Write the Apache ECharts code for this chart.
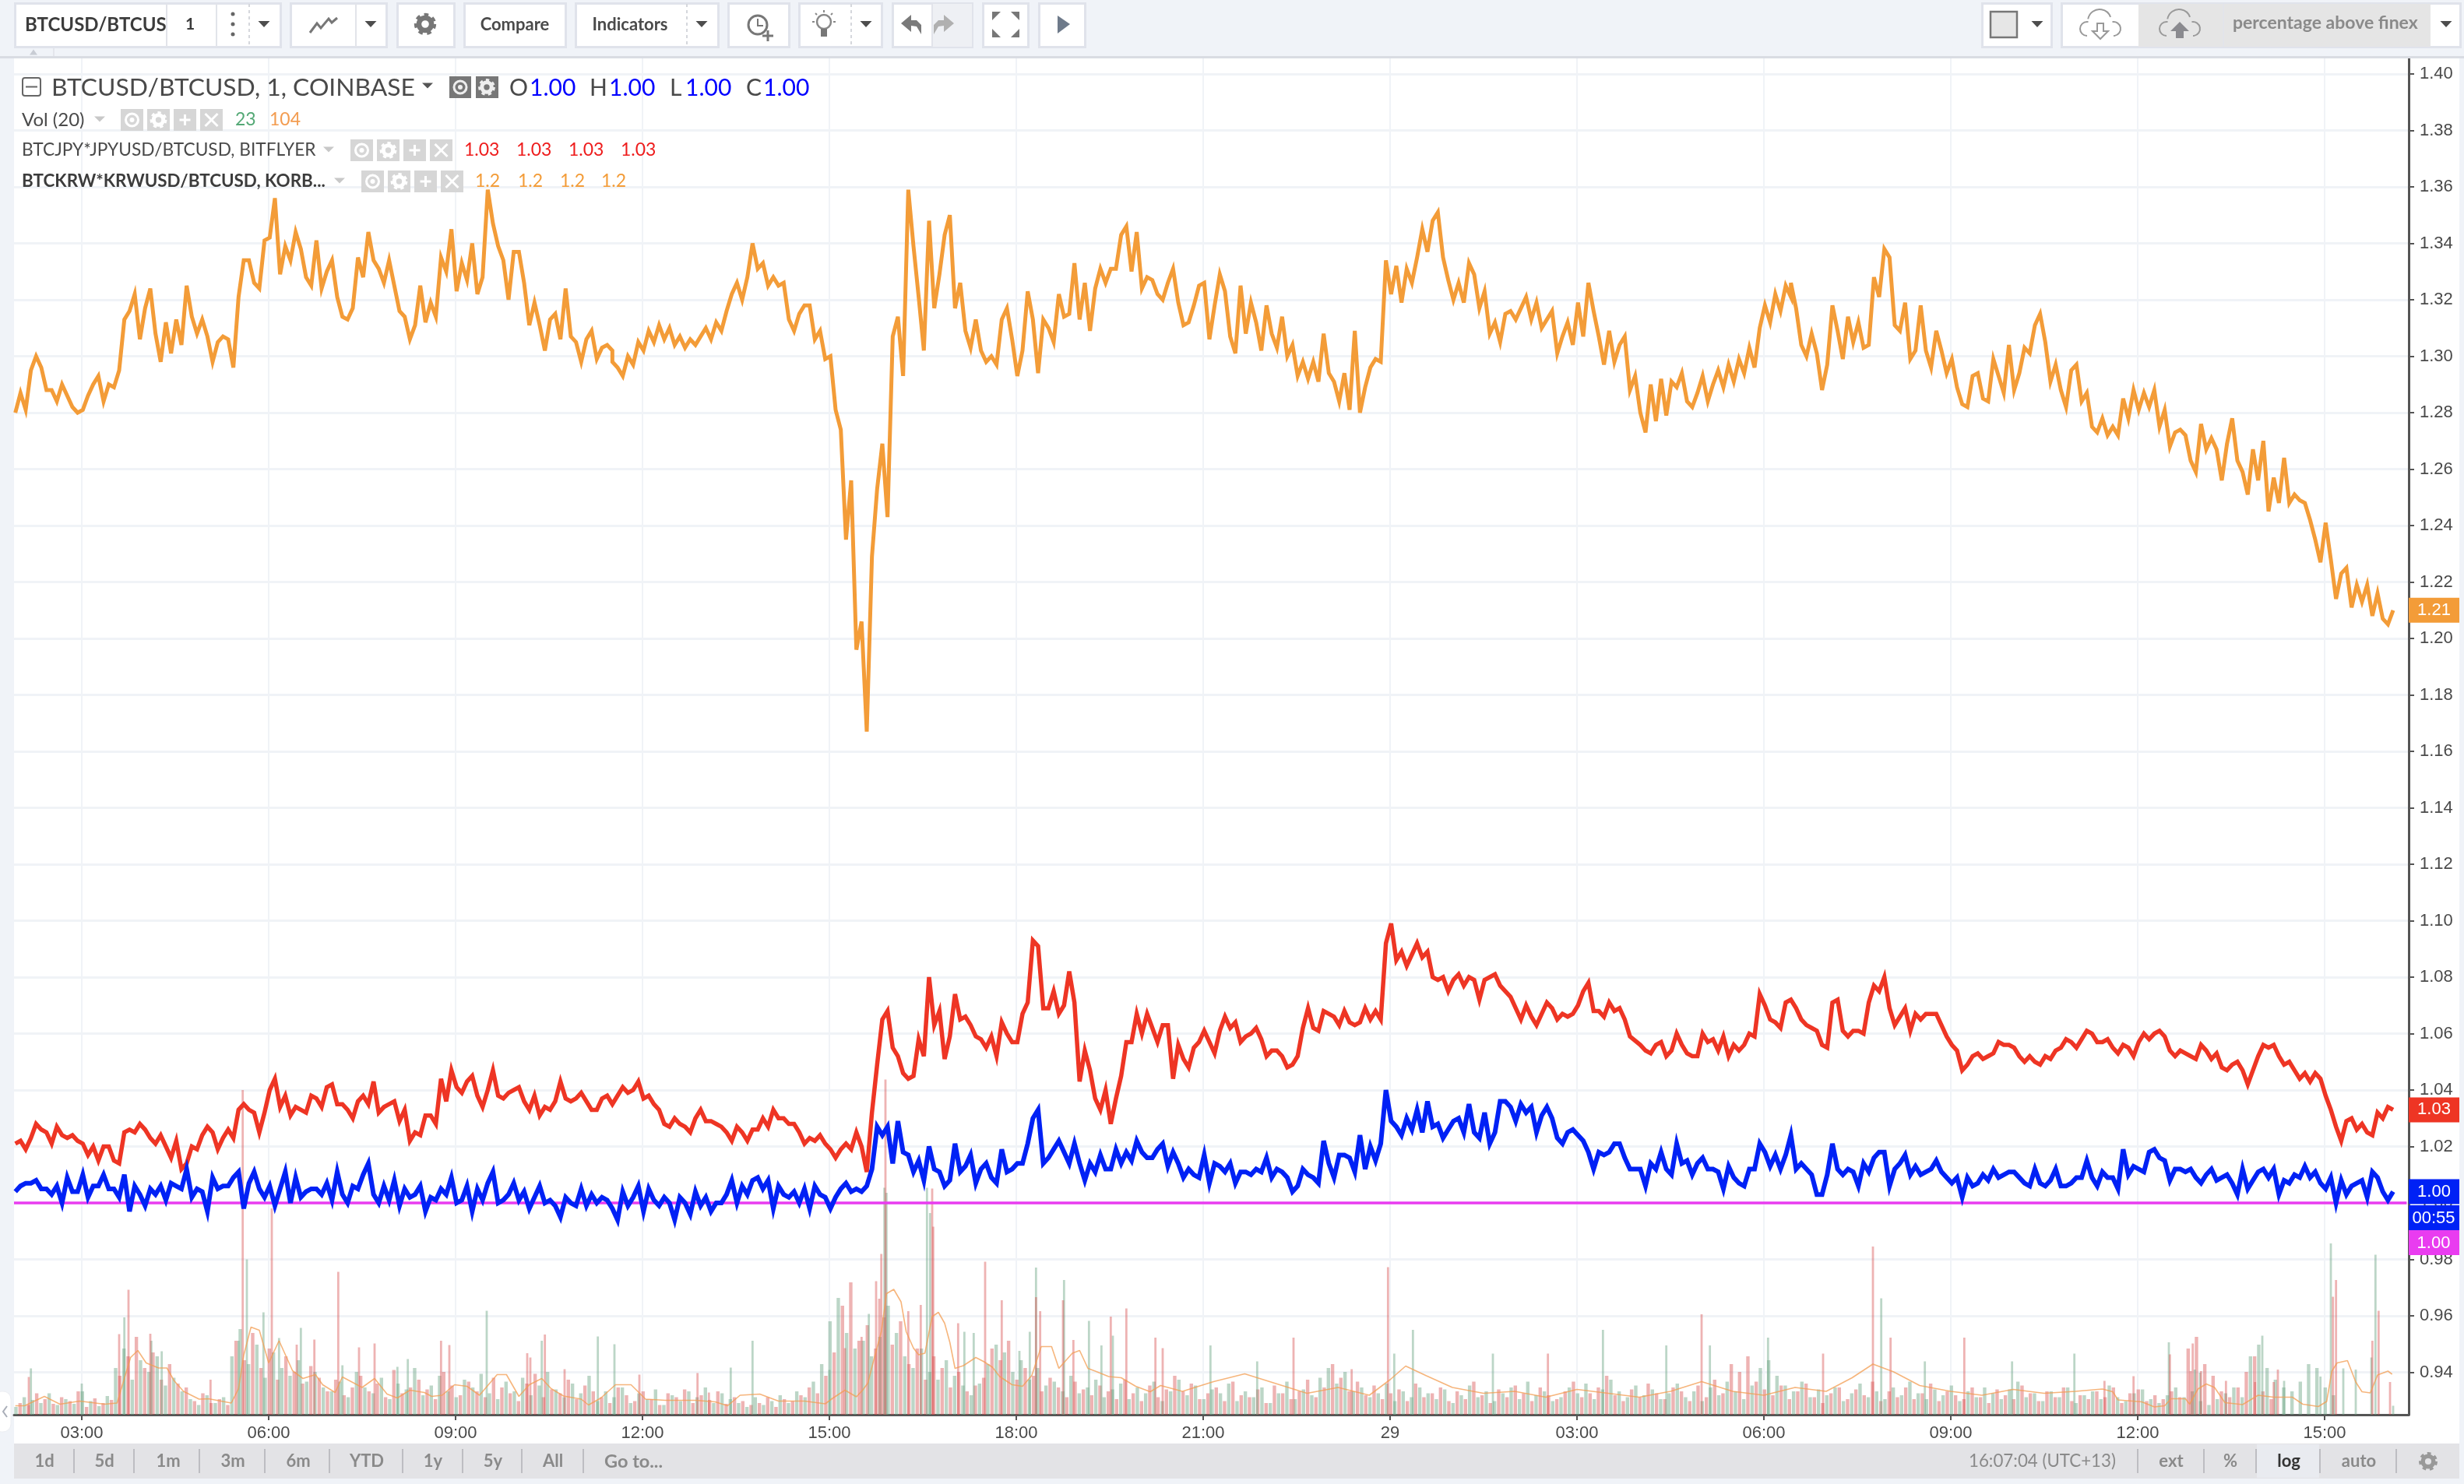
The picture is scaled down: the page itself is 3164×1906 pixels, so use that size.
<!DOCTYPE html>
<html>
<head>
<meta charset="utf-8">
<title>percentage above finex</title>
<style>html,body{margin:0;padding:0;background:#f0f3f8}#chart{width:3164px;height:1906px}</style>
<script src="https://cdn.jsdelivr.net/npm/echarts@6/dist/echarts.min.js"></script>
</head>
<body>
<div id="chart"></div>
<script>
// Minutes are counted from 00:00 of the first session; 1440 is the start of the 29th.
const xTickMinutes = [180, 360, 540, 720, 900, 1080, 1260, 1440, 1620, 1800, 1980, 2160, 2340];
const xTickLabels = ['03:00', '06:00', '09:00', '12:00', '15:00', '18:00', '21:00', '29', '03:00', '06:00', '09:00', '12:00', '15:00'];
const yTickValues = [0.94, 0.96, 0.98, 1.00, 1.02, 1.04, 1.06, 1.08, 1.10, 1.12, 1.14, 1.16, 1.18, 1.20, 1.22, 1.24, 1.26, 1.28, 1.30, 1.32, 1.34, 1.36, 1.38, 1.40];

// BTCKRW*KRWUSD/BTCUSD, one reading every 5 minutes
const krwStart = 116;
const krwEarly = [1.280,1.287,1.281,1.295,1.300,1.296,1.288,1.288,1.284,1.290,1.286,1.282,1.280,1.281,1.286,1.290,1.293,1.284,1.290,1.289,1.295,1.313,1.316,1.322,1.306,1.317,1.324,1.308,1.298,1.312,1.301,1.313,1.304,1.325,1.314,1.308,1.313,1.307,1.298,1.305,1.307,1.306,1.296,1.321,1.334,1.334,1.326,1.324,1.341,1.342,1.356,1.329,1.339,1.334,1.344,1.338,1.328,1.325,1.341,1.324,1.330,1.334,1.321,1.314,1.313,1.317,1.335,1.328,1.344,1.334,1.331,1.326,1.334,1.325,1.316,1.314,1.306,1.311,1.325,1.312,1.319,1.314,1.335,1.330,1.345,1.323,1.333,1.327,1.340,1.322,1.328,1.359,1.347,1.339,1.334,1.320,1.337,1.337,1.326,1.311,1.319,1.311,1.302,1.313,1.315,1.306,1.324,1.307,1.305,1.298,1.306,1.309,1.299,1.303,1.304,1.302];
const krwNoon = [1.298,1.296,1.293,1.300,1.297,1.305,1.302,1.309,1.305,1.311,1.306,1.310,1.304,1.307,1.303,1.306,1.304,1.307,1.310,1.306,1.312,1.309,1.316,1.322,1.326,1.320,1.328,1.340,1.331,1.333,1.325,1.328];
const krwCrash = [1.325,1.326,1.313,1.309,1.315,1.318,1.318,1.306,1.309,1.299,1.300,1.281,1.274,1.235,1.256,1.196,1.206,1.167,1.229,1.253,1.269,1.243,1.307,1.314,1.293,1.359,1.339,1.321,1.302,1.348,1.317,1.329,1.343,1.350,1.317,1.326,1.309,1.303,1.313,1.302,1.298,1.300,1.297,1.313,1.317,1.306,1.293,1.302,1.323,1.313,1.294,1.313,1.310,1.305,1.322,1.314,1.315,1.333,1.313,1.326,1.309];
const krwNight = [1.324,1.331,1.326,1.331,1.331,1.343,1.346,1.330,1.344,1.324,1.328,1.327,1.322,1.320,1.326,1.331,1.319,1.311,1.312,1.318,1.325,1.326,1.306,1.318,1.329,1.323,1.307,1.301,1.325,1.308,1.319,1.312,1.302,1.318,1.308,1.303,1.314,1.300,1.304,1.293,1.298,1.292,1.298,1.291,1.308,1.294,1.291,1.284,1.294,1.281,1.309,1.280,1.289,1.296,1.299,1.298,1.334,1.322,1.332,1.319,1.331,1.326,1.335,1.345,1.337,1.348,1.351,1.335,1.327,1.320,1.326,1.319,1.333,1.329,1.317,1.323,1.308,1.312,1.305,1.315,1.316,1.313,1.317,1.321,1.313,1.319,1.310,1.313,1.316,1.301,1.307,1.312,1.304,1.319,1.307,1.326,1.316,1.307,1.297,1.309,1.298,1.304,1.307,1.288,1.293,1.280,1.273,1.290,1.277,1.292,1.279,1.291,1.289,1.294,1.284,1.282];
const krwMorning = [1.287,1.293,1.284,1.290,1.295,1.289,1.297,1.291,1.299,1.294,1.303,1.296,1.310,1.318,1.312,1.322,1.316,1.325,1.321];
const krwLate = [1.326,1.317,1.304,1.300,1.308,1.301,1.288,1.297,1.318,1.309,1.299,1.314,1.305,1.312,1.303,1.304,1.328,1.321,1.338,1.335,1.311,1.309,1.319,1.299,1.302,1.318,1.302,1.296,1.309,1.302,1.294,1.299,1.289,1.283,1.282,1.293,1.294,1.285,1.284,1.299,1.293,1.287,1.304,1.288,1.294,1.303,1.301,1.311,1.315,1.305,1.291,1.297,1.288,1.282,1.295,1.297,1.284,1.287,1.275,1.273,1.278,1.272,1.275,1.272,1.285,1.278,1.288,1.281,1.287,1.282,1.288,1.275,1.281,1.268,1.273,1.274,1.272,1.263,1.259,1.276,1.267,1.271,1.267,1.256,1.269,1.278,1.263,1.259,1.251,1.267,1.256,1.270,1.245,1.257,1.248,1.264,1.248,1.251,1.249,1.248,1.242,1.235,1.227,1.241,1.228,1.214,1.223,1.225,1.211,1.219,1.213,1.219,1.208,1.216,1.207,1.205,1.210];
const krwRuns = [[116, krwEarly], [691, krwNoon], [851, krwCrash], [1156, krwNight], [1736, krwMorning], [1826, krwLate]];

// BTCJPY*JPYUSD/BTCUSD, one reading every 5 minutes
const jpyEarly = [1.021,1.022,1.019,1.023,1.028,1.026,1.025,1.021,1.027,1.024,1.023,1.024,1.022,1.021,1.017,1.020,1.015,1.020,1.020,1.015,1.014,1.025,1.026,1.025,1.028,1.026,1.023,1.021,1.024,1.020,1.016,1.022,1.012,1.014,1.020,1.019,1.024,1.027,1.025,1.019,1.023,1.026,1.023,1.033,1.035,1.033,1.032,1.025,1.032,1.040,1.044,1.034,1.038,1.031,1.034,1.033,1.032,1.038,1.037,1.034,1.041,1.042,1.035,1.035,1.033,1.030,1.036,1.038,1.035,1.043,1.032,1.034,1.035,1.036,1.029,1.033,1.022,1.025,1.024,1.031,1.031,1.028,1.044,1.036,1.047,1.041,1.039,1.043,1.045,1.038,1.034,1.040,1.047,1.038,1.037,1.039,1.040,1.041,1.036,1.033,1.038,1.031,1.034,1.033,1.036,1.043,1.037,1.036,1.037,1.039,1.036,1.033,1.033,1.037,1.038,1.035,1.038,1.041,1.039,1.040,1.043,1.037,1.038,1.035,1.033,1.028,1.027,1.030,1.028,1.027,1.025,1.030,1.033,1.029,1.029,1.028,1.027,1.025,1.022,1.027,1.025,1.022,1.026,1.026,1.030,1.027,1.033,1.030,1.030,1.028,1.028,1.025,1.021,1.023,1.022,1.024,1.021,1.019,1.016,1.019,1.021,1.019,1.025];
const jpyMiddle = [1.020,1.011,1.032,1.049,1.065,1.068,1.055,1.052,1.046,1.044,1.045,1.058,1.052,1.080,1.063,1.068,1.051,1.059,1.074,1.065,1.066,1.063,1.059,1.058,1.055,1.059,1.052,1.064,1.060,1.057,1.057,1.067,1.071,1.093,1.091,1.069,1.069,1.075,1.067,1.070,1.082,1.071,1.043,1.054,1.047,1.037,1.033,1.040,1.028,1.037,1.045,1.057,1.057,1.067,1.060,1.067,1.062,1.057,1.063,1.063,1.044,1.056,1.051,1.048,1.055,1.057,1.061,1.057,1.053,1.061,1.066,1.062,1.064,1.057,1.059,1.060,1.062,1.058,1.052,1.054,1.054,1.052,1.048,1.049,1.052,1.062,1.069,1.062,1.061,1.068,1.067,1.066,1.063,1.068,1.064,1.063,1.064,1.069,1.065,1.068,1.065,1.092,1.099,1.086,1.089,1.084,1.088,1.092,1.087,1.089,1.080,1.079,1.080,1.075,1.079,1.081,1.077,1.080,1.079,1.072,1.079,1.080,1.081,1.077,1.075,1.073,1.069,1.065,1.070,1.066,1.063,1.067,1.071,1.069,1.065,1.067,1.066,1.067,1.070,1.075,1.078,1.068,1.068,1.066,1.071,1.068,1.069,1.065,1.059];
const jpyLate = [1.056,1.054,1.053,1.056,1.057,1.052,1.054,1.060,1.056,1.053,1.052,1.052,1.060,1.057,1.058,1.054,1.059,1.052,1.056,1.054,1.056,1.060,1.059,1.074,1.070,1.065,1.064,1.062,1.071,1.072,1.069,1.065,1.063,1.062,1.061,1.056,1.055,1.071,1.072,1.061,1.059,1.061,1.061,1.060,1.071,1.077,1.075,1.080,1.069,1.063,1.066,1.069,1.061,1.067,1.065,1.067,1.067,1.067,1.063,1.059,1.056,1.054,1.047,1.049,1.052,1.053,1.051,1.052,1.053,1.057,1.056,1.056,1.055,1.052,1.050,1.052,1.050,1.049,1.052,1.051,1.054,1.055,1.058,1.057,1.055,1.058,1.061,1.060,1.057,1.057,1.058,1.055,1.053,1.056,1.055,1.052,1.057,1.060,1.058,1.060,1.061,1.059,1.054,1.052,1.054,1.053,1.052,1.051,1.056,1.054,1.051,1.053,1.048,1.047,1.049,1.050,1.047,1.042,1.047,1.052,1.056,1.055,1.056,1.052,1.049,1.050,1.047,1.044,1.046,1.043,1.046,1.044,1.038,1.033,1.027,1.022,1.029,1.030,1.026,1.028,1.025,1.024,1.032,1.030,1.034,1.033];
const jpyRuns = [[116, jpyEarly], [931, jpyMiddle], [1681, jpyLate]];

// BTCUSD/BTCUSD traced against the reference exchange
const usdEarly = [1.004,1.006,1.007,1.007,1.008,1.005,1.005,1.003,1.006,1.000,1.009,1.004,1.004,1.010,1.002,1.006,1.006,1.010,1.005,1.005,1.002,1.010,0.997,1.006,1.003,0.999,1.005,1.003,1.006,1.001,1.007,1.006,1.005,1.012,1.002,1.005,1.004,0.997,1.009,1.005,1.006,1.006,1.009,1.011,0.998,1.007,1.011,1.005,1.002,1.006,0.999,1.005,1.011,1.000,1.009,1.002,1.004,1.005,1.005,1.003,1.007,1.001,1.011,1.003,1.000,1.006,1.005,1.010,1.014,1.003,1.000,1.006,1.001,1.008,0.999,1.005,1.002,1.003,1.006,0.997,1.002,1.001,1.005,1.003,1.009,1.000,1.001,1.006,0.997,1.005,1.001,1.007,1.011,1.000,1.001,1.003,1.007,1.001,1.004,0.998,1.002,1.006,1.000,1.001,0.999,0.995,1.002,1.000,0.999,1.005,0.999,1.003,1.000,1.002,1.001,0.998,0.994,1.004,0.999,1.002,1.006,0.997,1.005,1.001,0.999,1.002,1.000,0.994,1.002,1.000,0.996,1.004,0.999,1.002,0.997,1.000,1.000,1.003,1.008,1.000,1.006,1.003,1.008,1.009,1.005,1.008,0.998,1.006,1.003,1.002,1.004,1.000,1.005,0.998,1.006,1.003,1.002,0.998,1.002,1.005,1.007,1.004,1.005];
const usdMiddle = [1.004,1.006,1.012,1.027,1.024,1.027,1.014,1.029,1.018,1.017,1.011,1.015,1.008,1.020,1.012,1.011,1.006,1.008,1.021,1.011,1.013,1.017,1.007,1.012,1.014,1.009,1.007,1.019,1.011,1.012,1.014,1.014,1.021,1.030,1.033,1.014,1.016,1.019,1.022,1.018,1.014,1.021,1.014,1.008,1.014,1.011,1.017,1.012,1.012,1.019,1.014,1.018,1.015,1.022,1.018,1.016,1.016,1.019,1.021,1.013,1.018,1.014,1.009,1.012,1.010,1.009,1.017,1.007,1.014,1.013,1.011,1.014,1.007,1.011,1.011,1.010,1.012,1.011,1.016,1.009,1.012,1.011,1.009,1.004,1.006,1.012,1.010,1.009,1.007,1.022,1.014,1.009,1.017,1.017,1.016,1.011,1.024,1.012,1.020,1.015,1.021,1.040,1.029,1.027,1.024,1.030,1.026,1.033,1.025,1.036,1.027,1.028,1.023,1.026,1.029,1.030,1.025,1.035,1.025,1.023,1.032,1.021,1.025,1.036,1.036,1.034,1.029,1.035,1.032,1.034,1.025,1.031,1.034,1.030,1.023,1.021,1.025,1.026,1.024,1.022,1.018,1.012,1.018,1.017,1.018,1.021,1.021,1.016,1.012];
const usdLate = [1.012,1.006,1.014,1.012,1.018,1.012,1.010,1.021,1.014,1.015,1.010,1.014,1.016,1.012,1.012,1.011,1.005,1.013,1.009,1.007,1.006,1.012,1.012,1.021,1.018,1.013,1.017,1.012,1.017,1.024,1.012,1.014,1.012,1.010,1.003,1.003,1.010,1.021,1.012,1.010,1.012,1.011,1.006,1.014,1.011,1.016,1.018,1.018,1.006,1.012,1.014,1.017,1.010,1.013,1.010,1.011,1.012,1.015,1.011,1.009,1.007,1.009,1.002,1.009,1.006,1.007,1.010,1.008,1.012,1.009,1.010,1.011,1.011,1.009,1.007,1.006,1.012,1.007,1.006,1.008,1.012,1.006,1.006,1.007,1.009,1.009,1.015,1.009,1.006,1.011,1.009,1.009,1.005,1.019,1.010,1.013,1.012,1.011,1.018,1.019,1.016,1.015,1.008,1.012,1.012,1.011,1.012,1.009,1.007,1.010,1.012,1.008,1.009,1.010,1.007,1.003,1.012,1.005,1.008,1.011,1.012,1.009,1.012,1.003,1.008,1.007,1.010,1.009,1.013,1.009,1.011,1.007,1.005,1.009,1.000,1.008,1.003,1.006,1.007,1.008,1.002,1.011,1.009,1.004,1.001,1.004];
const usdRuns = [[116, usdEarly], [931, usdMiddle], [1681, usdLate]];

// The flat comparison symbol sits on 1.00 across the whole pane
const refLevel = 1.00;

// Volume per minute bar, rising and falling bars read every 8 minutes
const volStart = 116;
const volUp = [20,45,38,30,55,25,40,28,60,35,22,48,120,170,90,140,110,150,75,95,60,40,25,50,30,45,150,220,130,180,95,160,120,100,140,85,110,70,60,85,45,110,70,55,95,40,80,65,120,50,75,100,60,45,90,70,105,55,40,85,60,95,50,75,110,65,45,80,55,100,35,60,45,70,30,55,40,65,25,50,35,60,45,70,30,55,40,30,20,45,25,35,50,30,60,45,85,130,240,300,210,170,190,150,200,280,210,150,120,170,110,90,140,100,75,50,80,130,180,160,110,140,90,120,75,85,60,100,55,70,90,45,65,80,40,70,55,85,35,60,90,50,75,40,65,55,80,35,60,45,70,30,55,85,40,65,50,95,120,80,110,60,70,45,55,80,35,60,45,70,55,40,65,30,50,75,45,60,35,55,70,40,85,50,60,35,45,70,55,80,40,65,90,60,45,75,50,65,40,55,80,45,60,35,70,50,85,60,40,75,120,140,100,75,60,85,45,65,50,70,35,55,80,45,60,40,70,50,85,55,40,65,50,75,35,60,45,70,55,40,65,85,45,55,35,60,45,70,30,50,60,40,75,45,35,55,65,40,30,50,70,45,60,35,25,40,55,70,45,150,180,120,90,70,60,85,130,120,70,50];
const volDown = [30,25,55,40,28,45,35,60,20,42,30,38,100,150,200,120,160,90,130,80,70,35,55,30,40,25,190,140,210,120,170,90,150,110,80,125,95,60,90,50,70,100,60,80,45,115,55,70,90,65,40,110,75,50,85,60,45,95,70,55,35,80,105,45,65,55,90,40,75,60,45,30,70,50,35,60,40,25,55,45,65,30,50,38,60,28,45,35,25,30,45,20,40,35,50,70,55,100,160,280,340,190,230,170,250,180,240,130,170,90,150,120,70,110,60,75,95,170,140,190,90,120,100,60,95,70,45,85,65,50,75,60,40,90,55,35,75,45,65,100,60,80,40,55,70,35,85,50,45,65,30,75,55,40,60,90,45,70,130,95,60,85,50,75,40,55,65,35,80,45,55,70,35,60,40,85,50,30,65,45,75,55,35,70,50,40,60,85,45,55,70,100,50,35,65,45,80,55,40,70,60,35,75,45,90,55,130,110,150,85,65,50,75,40,60,80,45,30,55,70,40,65,50,85,35,60,45,70,40,55,80,35,60,50,40,70,45,30,65,50,40,75,55,35,60,45,70,35,50,40,60,45,70,30,55,65,35,50,40,60,45,170,200,130,100,60,45,70,110,150,60,40];
// Tall single bars that stand out of the mass, as [minute, volume]
const volUpPeaks = [[131,119],[180,80],[221,250],[247,190],[257,163],[331,190],[339,399],[355,263],[370,197],[391,223],[431,127],[484,123],[494,143],[570,267],[623,190],[677,201],[693,181],[805,121],[826,190],[900,115],[938,259],[953,583],[955,570],[994,583],[997,518],[1030,213],[1039,210],[1083,164],[1093,213],[1099,378],[1126,346],[1150,241],[1162,178],[1173,203],[1267,178],[1312,137],[1444,157],[1462,218],[1539,157],[1645,218],[1706,178],[1748,178],[1804,198],[1913,299],[1955,137],[2039,137],[2099,157],[2190,186],[2215,116],[2220,108],[2280,203],[2301,87],[2336,98],[2346,440],[2358,119],[2370,116],[2385,147],[2389,411],[2406,23]];
const volDownPeaks = [[129,97],[216,207],[225,321],[246,208],[304,90],[335,834],[363,530],[387,180],[404,193],[427,367],[447,173],[462,183],[526,190],[534,179],[609,158],[612,147],[626,206],[645,117],[717,103],[773,107],[784,57],[915,171],[931,200],[945,343],[948,298],[950,413],[954,861],[976,266],[988,282],[999,581],[1000,483],[1024,235],[1050,393],[1066,294],[1099,302],[1103,266],[1125,294],[1135,192],[1171,252],[1186,273],[1214,198],[1221,171],[1347,198],[1403,117],[1438,379],[1592,157],[1740,258],[1857,157],[1905,432],[1922,198],[1993,198],[2128,87],[2156,99],[2191,155],[2211,112],[2213,183],[2221,112],[2245,87],[2273,84],[2291,84],[2295,116],[2348,303],[2351,346],[2386,190],[2392,267],[2403,84]];
// Volume 20-bar moving average as [minute, volume]
const volAverage = [[116,23],[125,23],[144,47],[159,27],[178,35],[202,27],[214,30],[221,93],[227,147],[234,165],[242,133],[254,120],[262,120],[269,87],[278,60],[293,40],[302,41],[324,30],[331,67],[336,153],[343,225],[351,217],[360,133],[370,190],[383,113],[393,93],[405,103],[412,77],[424,57],[431,97],[450,70],[462,93],[474,53],[484,43],[496,63],[510,57],[517,47],[527,50],[539,77],[551,73],[563,50],[580,103],[589,103],[601,47],[611,77],[623,93],[632,67],[644,48],[661,40],[668,25],[680,43],[694,77],[709,77],[723,40],[742,37],[771,37],[790,33],[802,23],[814,50],[833,53],[851,35],[876,35],[896,28],[903,42],[915,63],[926,46],[932,63],[937,81],[943,143],[950,213],[955,311],[962,322],[969,290],[974,213],[981,171],[986,154],[992,158],[999,252],[1005,263],[1011,235],[1016,186],[1021,119],[1029,126],[1041,147],[1049,136],[1057,122],[1064,98],[1076,77],[1086,73],[1095,101],[1104,175],[1114,175],[1121,119],[1134,158],[1141,165],[1149,119],[1156,112],[1169,98],[1181,95],[1195,73],[1209,59],[1219,75],[1240,60],[1270,85],[1300,105],[1330,80],[1360,55],[1390,70],[1420,50],[1440,90],[1455,125],[1475,100],[1500,70],[1530,55],[1560,60],[1590,45],[1620,65],[1650,55],[1680,45],[1710,60],[1740,85],[1770,60],[1800,50],[1830,70],[1860,60],[1885,95],[1905,130],[1925,110],[1950,75],[1980,60],[2010,50],[2040,65],[2070,55],[2100,60],[2126,66],[2136,59],[2141,38],[2164,33],[2176,20],[2186,23],[2192,41],[2206,41],[2210,27],[2218,66],[2226,79],[2234,70],[2244,31],[2261,26],[2276,50],[2291,45],[2309,45],[2319,27],[2334,21],[2342,34],[2347,112],[2352,133],[2362,139],[2370,84],[2376,59],[2384,56],[2391,102],[2401,112],[2405,104]];

// Turn runs of evenly spaced readings into [minute, value] pairs
const READING_STEP = 5;
function expandRuns(runs) {
  const out = [];
  runs.forEach(([start, values]) => values.forEach((v, i) => out.push([start + i * READING_STEP, v])));
  return out;
}
const expandVolume = (values, start) => values.map((v, i) => [start + i * 8, v]);
const krwLine = expandRuns(krwRuns);
const jpyLine = expandRuns(jpyRuns);
const usdLine = expandRuns(usdRuns);
const lastOf = line => line[line.length - 1][1];

const C = {
  krw: '#f39c38', jpy: '#ee3524', usd: '#0021f5', ref: '#e93cf0',
  up: 'rgba(107,165,131,0.45)', down: 'rgba(214,74,74,0.42)', avg: 'rgba(243,156,80,0.75)',
  frame: '#e0e3eb', page: '#f0f3f8', ink: '#4a4a4a', grey: '#8a8a8a', icon: '#777777', well: '#d6d6d6',
  axis: '#555555', grid: '#f0f3f7', strip: '#e3e3e6'
};
const AXIS_FONT = '"Liberation Sans", Arial, sans-serif';
const UI_FONT = 'Lato, "Open Sans", sans-serif';
const X_MIN = 114.75, X_MAX = 2421;
const Y_MIN = 0.92497, Y_MAX = 1.40552;
const VOL_MAX = 3484;

// Drawing helpers for the surrounding terminal chrome
const box = (x, y, w, h, fill, z) => ({ type: 'rect', z: z || 50, silent: true, shape: { x, y, width: w, height: h }, style: { fill } });
const framed = (x, y, w, h, fill) => ({ type: 'rect', z: 50, silent: true, shape: { x: x + 1.5, y: y + 1.5, width: w - 3, height: h - 3 }, style: { fill: fill || '#fff', stroke: C.frame, lineWidth: 3 } });
const label = (x, y, text, fill, font, align) => ({ type: 'text', z: 60, silent: true, style: { x, y, text, fill, font, textAlign: align || 'left', textVerticalAlign: 'middle' } });
const vline = (x, y1, y2, stroke, dash) => ({ type: 'line', z: 55, silent: true, shape: { x1: x, y1, x2: x, y2 }, style: { stroke, lineWidth: 2, lineDash: dash || null } });
const tri = (cx, cy, w, h, fill, up) => ({ type: 'polygon', z: 60, silent: true, shape: { points: up ? [[cx - w / 2, cy + h / 2], [cx + w / 2, cy + h / 2], [cx, cy - h / 2]] : [[cx - w / 2, cy - h / 2], [cx + w / 2, cy - h / 2], [cx, cy + h / 2]] }, style: { fill } });
const ring = (cx, cy, r, stroke, lw, dash, z) => ({ type: 'circle', z: z || 60, silent: true, shape: { cx, cy, r }, style: { fill: 'none', stroke, lineWidth: lw, lineDash: dash || null } });
const gear = (cx, cy, r, col) => [ring(cx, cy, r * 0.62, col, r * 0.5), ring(cx, cy, r * 0.92, col, r * 0.34, [r * 0.42, r * 0.42])];
const eye = (cx, cy, col) => [ring(cx, cy, 8, col, 3), { type: 'circle', z: 60, silent: true, shape: { cx, cy, r: 3 }, style: { fill: col } }];
const plus = (cx, cy, s, col) => [box(cx - s, cy - 1.5, 2 * s, 3, col, 60), box(cx - 1.5, cy - s, 3, 2 * s, col, 60)];
const cross = (cx, cy, s, col) => [[-1, 1], [1, 1]].map(([a, b]) => ({ type: 'line', z: 60, silent: true, shape: { x1: cx - s * a, y1: cy - s * b, x2: cx + s * a, y2: cy + s * b }, style: { stroke: col, lineWidth: 3 } }));
const poly = (points, fill, stroke) => ({ type: 'polygon', z: 61, silent: true, shape: { points }, style: stroke ? { fill, stroke, lineWidth: 2 } : { fill } });
const arc = (cx, cy, r, a, b) => ({ type: 'arc', z: 60, silent: true, shape: { cx, cy, r, startAngle: a * Math.PI / 180, endAngle: b * Math.PI / 180 }, style: { stroke: '#999', lineWidth: 2, fill: 'none' } });
const cloud = cx => [arc(cx - 17, 37, 9, 90, 280), arc(cx - 1, 27, 15, 190, 340), arc(cx + 17, 37, 9, 260, 90 + 360)];

function chrome() {
  const g = [];
  // sheet behind the plot
  g.push(box(18, 75, 3140, 1785, '#ffffff', -10));
  g.push(box(0, 72, 3164, 3, '#d9dce3', 40));
  // toolbar groups
  [[18, 344], [372, 126], [509, 76], [595, 133], [738, 186], [934, 81], [1025, 109], [1145, 105], [1261, 61], [1333, 62], [2544, 92], [2646, 515]].forEach(([x, w]) => g.push(framed(x, 3, w, 59)));
  g.push(box(1198, 5, 50, 55, '#eef0f4', 52));
  g.push(box(2746, 5, 375, 55, '#e5e5e5', 52));
  [214, 278, 457, 1197, 2855].forEach(x => g.push(vline(x, 5, 60, '#e2e4ea')));
  [320, 882, 1093].forEach(x => g.push(vline(x, 5, 60, '#d5d7dc', [4, 4])));
  g.push(label(32, 32, 'BTCUSD/BTCUS', '#3c3c3c', `bold 24px ${UI_FONT}`));
  g.push(label(244, 31, '1', '#3c3c3c', `bold 21px ${UI_FONT}`, 'center'));
  [18, 31, 44].forEach(y => g.push({ type: 'circle', z: 60, silent: true, shape: { cx: 299, cy: y, r: 2.5 }, style: { fill: '#666' } }));
  [[339, 31], [476, 31], [901, 31], [1112, 31], [2616, 31], [3141, 31]].forEach(([x, y]) => g.push(tri(x, y, 15, 8, '#4d4d4d')));
  g.push({ type: 'polyline', z: 60, silent: true, shape: { points: [[398, 42], [407, 30], [412, 36], [422, 24], [426, 29], [433, 23]] }, style: { stroke: '#777', lineWidth: 3, fill: 'none' } });
  g.push(...gear(546, 31, 13, '#777'));
  g.push(label(661, 32, 'Compare', '#4a4a4a', `bold 22px ${UI_FONT}`, 'center'));
  g.push(label(809, 32, 'Indicators', '#4a4a4a', `bold 22px ${UI_FONT}`, 'center'));
  g.push(ring(973, 32, 12, '#777', 3));
  g.push(box(972, 24, 2, 9, '#777', 60), box(972, 32, 8, 2, '#777', 60));
  g.push(...plus(986, 46, 7, '#777'));
  g.push(ring(1058, 28, 9, '#888', 2.5));
  g.push(box(1054, 37, 8, 10, '#777', 60));
  [[1058, 13, 1058, 16], [1043, 28, 1046, 28], [1070, 28, 1073, 28], [1047, 17, 1049, 19], [1069, 17, 1067, 19]].forEach(([a, b, c, d]) => g.push({ type: 'line', z: 60, silent: true, shape: { x1: a, y1: b, x2: c, y2: d }, style: { stroke: '#888', lineWidth: 2 } }));
  g.push(poly([[1170, 19], [1157, 30], [1170, 41], [1170, 33], [1177, 34], [1183, 44], [1183, 32], [1177, 26], [1170, 26]], '#7a7a7a'));
  g.push(poly([[1212, 19], [1225, 30], [1212, 41], [1212, 33], [1205, 34], [1199, 44], [1199, 32], [1205, 26], [1212, 26]], '#b0b0b0'));
  [[1274, 15, 1], [1309, 15, -1], [1274, 48, 1], [1309, 48, -1]].forEach(([x, y, s]) => g.push({ type: 'polygon', z: 60, silent: true, shape: { points: [[x, y], [x + s * 11, y], [x, y + (y < 31 ? 11 : -11)]] }, style: { fill: '#777' } }));
  g.push({ type: 'polygon', z: 60, silent: true, shape: { points: [[1358, 20], [1374, 31], [1358, 43]] }, style: { fill: '#6e7a8a' } });
  // layout swatch and chart-layout cloud controls
  g.push({ type: 'rect', z: 60, silent: true, shape: { x: 2556, y: 15, width: 34, height: 33 }, style: { fill: '#e6e6e6', stroke: '#777', lineWidth: 2.5 } });
  g.push(...cloud(2697));
  g.push(poly([[2693, 30], [2701, 30], [2701, 40], [2707, 40], [2697, 50], [2687, 40], [2693, 40]], '#fff', '#999'));
  g.push(...cloud(2799));
  g.push(poly([[2799, 28], [2811, 40], [2804, 40], [2804, 49], [2794, 49], [2794, 40], [2787, 40]], '#8a8a8f'));
  g.push(label(2867, 30, 'percentage above finex', '#8a8a8a', `bold 23px ${UI_FONT}`));
  // collapse tab under the toolbar
  g.push(vline(69, 62, 72, '#e4e6ec'));
  g.push(tri(43, 67, 10, 7, '#c8ccd4', true));

  // study legend
  g.push({ type: 'rect', z: 60, silent: true, shape: { x: 29, y: 100, width: 23, height: 23, r: 3 }, style: { fill: '#fff', stroke: '#666', lineWidth: 2 } });
  g.push(box(33, 110.5, 15, 2, '#666', 61));
  g.push(label(66, 113, 'BTCUSD/BTCUSD, 1, COINBASE', C.ink, `31.8px ${UI_FONT}`));
  g.push(tri(549, 110, 14, 7, '#555'));
  g.push(box(577, 98, 28, 28, C.icon, 55), box(611, 98, 29, 28, C.icon, 55));
  g.push(...eye(591, 112, '#eee'), ...gear(625, 112, 10, '#eee'));
  [['O', 654, 680], ['H', 757, 782], ['L', 860, 880], ['C', 958, 980]].forEach(([k, a, b]) => {
    g.push(label(a, 113, k, C.ink, `30px ${UI_FONT}`));
    g.push(label(b, 113, refLevel.toFixed(2), '#0000ff', `30px ${UI_FONT}`));
  });
  const tools = (y, xs) => {
    xs.forEach(x => g.push(box(x, y - 14, 29, 28, C.well, 55)));
    g.push(...eye(xs[0] + 14.5, y, '#fff'), ...gear(xs[1] + 14.5, y, 10, '#fff'), ...plus(xs[2] + 14.5, y, 7, '#fff'), ...cross(xs[3] + 14.5, y, 8, '#fff'));
  };
  g.push(label(28, 154, 'Vol (20)', C.ink, `24px ${UI_FONT}`));
  g.push(tri(128, 153, 14, 7, '#c8c8c8'));
  tools(154, [155, 189, 223, 257]);
  g.push(label(302, 154, String(volUpPeaks[volUpPeaks.length - 1][1]), '#53a875', `23px ${UI_FONT}`));
  g.push(label(346, 154, String(volAverage[volAverage.length - 1][1]), '#f39c50', `23px ${UI_FONT}`));
  g.push(label(28, 193, 'BTCJPY*JPYUSD/BTCUSD, BITFLYER', C.ink, `22.7px ${UI_FONT}`));
  g.push(tri(422, 192, 14, 7, '#c8c8c8'));
  tools(193, [450, 484, 518, 552]);
  [596, 663, 730, 797].forEach(x => g.push(label(x, 193, lastOf(jpyLine).toFixed(2), '#ee1c1c', `23px ${UI_FONT}`)));
  g.push(label(28, 233, 'BTCKRW*KRWUSD/BTCUSD, KORB...', '#3c3c3c', `bold 22.4px ${UI_FONT}`));
  g.push(tri(436, 232, 14, 7, '#c8c8c8'));
  tools(233, [464, 498, 532, 566]);
  [610, 665, 719, 772].forEach(x => g.push(label(x, 233, lastOf(krwLine).toFixed(1), C.krw, `23px ${UI_FONT}`)));

  // price-scale tags that stack below the USD tag
  g.push(box(3093, 1548, 65, 32, '#0021f5', 50));
  g.push(label(3125, 1564.5, '00:55', '#fff', `22px ${AXIS_FONT}`, 'center'));
  g.push(box(3093, 1580, 65, 32, C.ref, 50));
  g.push(label(3125, 1596.5, refLevel.toFixed(2), '#fff', `22px ${AXIS_FONT}`, 'center'));

  // pane scroller at the left edge
  g.push({ type: 'rect', z: 55, silent: true, shape: { x: -8, y: 1787, width: 22, height: 52, r: 10 }, style: { fill: '#fff', stroke: '#eceef2', lineWidth: 1 } });
  g.push({ type: 'polyline', z: 60, silent: true, shape: { points: [[9, 1806], [4, 1813], [9, 1820]] }, style: { stroke: '#a9aeb8', lineWidth: 2, fill: 'none' } });

  // bottom strip: ranges and scale toggles
  g.push(box(18, 1854, 3140, 45, C.strip, 50));
  const stripFont = `bold 22px ${UI_FONT}`;
  [['1d', 57], ['5d', 134], ['1m', 216], ['3m', 299], ['6m', 383], ['YTD', 471], ['1y', 556], ['5y', 633], ['All', 710]].forEach(([t, x]) => g.push(label(x, 1877, t, C.grey, stripFont, 'center')));
  g.push(label(776, 1877, 'Go to...', C.grey, `bold 23.5px ${UI_FONT}`));
  [95, 172, 256, 340, 423, 517, 594, 670, 749, 2745, 2830, 2897, 2979, 3077].forEach(x => g.push(vline(x, 1861, 1892, '#bdbdc2')));
  g.push(label(2528, 1877, '16:07:04 (UTC+13)', C.grey, `22.3px ${UI_FONT}`));
  g.push(box(2898, 1855, 80, 43, '#e9ebf0', 51));
  g.push(label(2788, 1877, 'ext', C.grey, stripFont, 'center'));
  g.push(label(2864, 1877, '%', C.grey, stripFont, 'center'));
  g.push(label(2939, 1877, 'log', '#333', stripFont, 'center'));
  g.push(label(3029, 1877, 'auto', C.grey, stripFont, 'center'));
  g.push(...gear(3118, 1877, 11, '#999'));
  return g;
}

// Coloured value tag pinned to the price scale at a line's last value
const priceTag = (line, color) => ({
  symbol: 'rect', symbolSize: [65, 32], symbolOffset: [32.5, 0], silent: true, animation: false,
  itemStyle: { color },
  label: { show: true, color: '#fff', fontFamily: AXIS_FONT, fontSize: 22, formatter: p => p.value },
  data: [{ coord: [X_MAX, lastOf(line)], value: lastOf(line).toFixed(2) }]
});
const priceLine = (name, data, color, width, z, extra) => Object.assign({
  name, type: 'line', data, z, showSymbol: false, symbol: 'none', animation: false, silent: true, sampling: null,
  lineStyle: { color, width, join: 'miter', miterLimit: 5 }, itemStyle: { color }
}, extra || {});
const volumeBars = (name, data, color, width) => ({
  name, type: 'bar', yAxisIndex: 1, data, barWidth: width, barGap: '-100%', itemStyle: { color }, silent: true, z: 1, animation: false
});

const option = {
  backgroundColor: C.page,
  animation: false,
  grid: { left: 18, top: 75, right: 71, bottom: 89, containLabel: false },
  xAxis: {
    type: 'value', min: X_MIN, max: X_MAX,
    axisLine: { show: true, onZero: false, lineStyle: { color: C.axis, width: 3 } },
    axisTick: { show: true, length: 7, customValues: xTickMinutes, lineStyle: { color: C.axis, width: 2 } },
    axisLabel: { show: true, margin: 13, customValues: xTickMinutes, color: C.ink, fontFamily: AXIS_FONT, fontSize: 22, formatter: v => xTickLabels[xTickMinutes.indexOf(v)] },
    splitLine: { show: true, lineStyle: { color: C.grid, width: 2 } }
  },
  yAxis: [{
    type: 'value', position: 'right', min: Y_MIN, max: Y_MAX,
    axisLine: { show: true, onZero: false, lineStyle: { color: C.axis, width: 3 } },
    axisTick: { show: true, length: 7, customValues: yTickValues, lineStyle: { color: C.axis, width: 2 } },
    axisLabel: { show: true, margin: 14, customValues: yTickValues, color: C.ink, fontFamily: AXIS_FONT, fontSize: 22, formatter: v => v.toFixed(2) },
    splitLine: { show: true, lineStyle: { color: C.grid, width: 3 } }
  }, {
    type: 'value', show: false, min: 0, max: VOL_MAX, splitLine: { show: false }
  }],
  series: [
    volumeBars('Vol up', expandVolume(volUp, volStart), C.up, 4.4),
    volumeBars('Vol down', expandVolume(volDown, volStart + 4), C.down, 4.4),
    volumeBars('Vol up peaks', volUpPeaks, C.up, 2.8),
    volumeBars('Vol down peaks', volDownPeaks, C.down, 2.8),
    { name: 'Vol MA', type: 'line', yAxisIndex: 1, data: volAverage, showSymbol: false, symbol: 'none', lineStyle: { color: C.avg, width: 1.6 }, silent: true, z: 2, animation: false },
    priceLine('reference', [[X_MIN, refLevel], [X_MAX - 2, refLevel]], C.ref, 3.5, 3),
    priceLine('BTCKRW*KRWUSD/BTCUSD', krwLine, C.krw, 5, 4, { markPoint: priceTag(krwLine, C.krw) }),
    priceLine('BTCJPY*JPYUSD/BTCUSD', jpyLine, C.jpy, 5.5, 4, { markPoint: priceTag(jpyLine, C.jpy) }),
    priceLine('BTCUSD/BTCUSD', usdLine, C.usd, 6, 5, { markPoint: priceTag(usdLine, C.usd) })
  ],
  graphic: { elements: chrome() }
};
const chart = echarts.init(document.getElementById('chart'), null, { renderer: 'canvas', width: 3164, height: 1906 });
chart.setOption(option);
</script>
</body>
</html>
